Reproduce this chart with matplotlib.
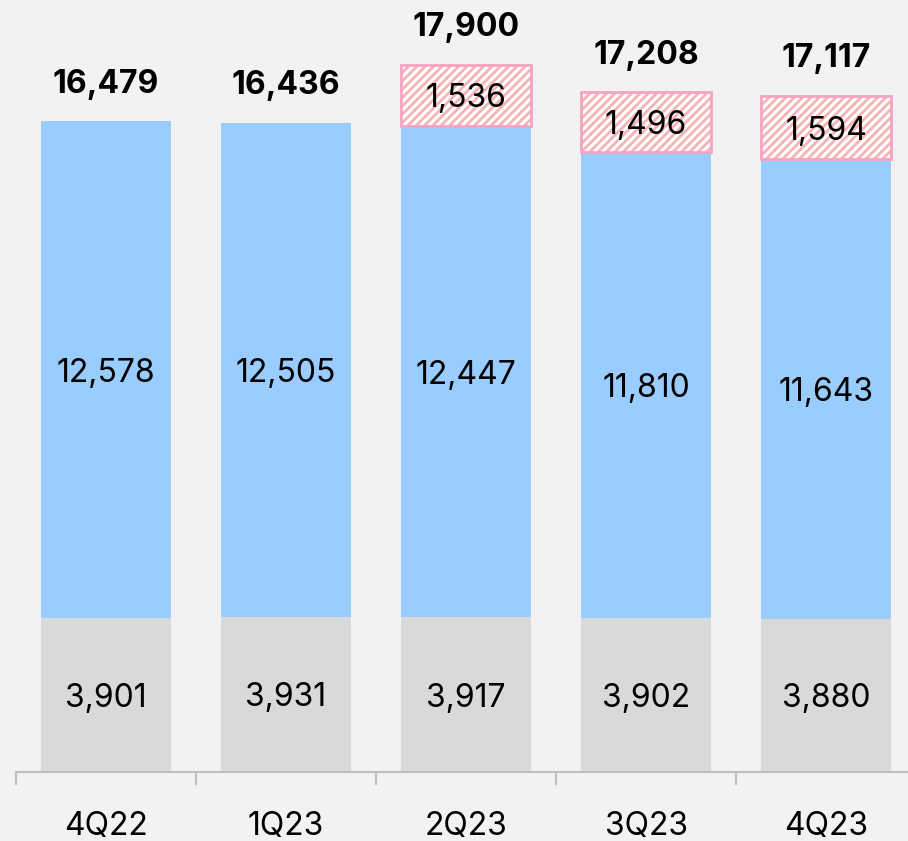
import matplotlib
matplotlib.use('Agg')
from matplotlib import pyplot as plt
import numpy as np

quarters = ['4Q22', '1Q23', '2Q23', '3Q23', '4Q23']
bottom_vals = [3901, 3931, 3917, 3902, 3880]
middle_vals = [12578, 12505, 12447, 11810, 11643]
top_vals = [0, 0, 1536, 1496, 1594]
totals = [16479, 16436, 17900, 17208, 17117]

bg = '#f2f2f2'
plt.rcParams['font.family'] = ['Inter', 'DejaVu Sans']
plt.rcParams['hatch.linewidth'] = 2.0
plt.rcParams['hatch.color'] = '#f6b3b3'

fig = plt.figure(figsize=(9.08, 8.41), dpi=100, facecolor=bg)
ax = fig.add_axes([16 / 908, 69 / 841, 900 / 908, 772 / 841], facecolor=bg)

x = np.arange(len(quarters))
w = 0.72
bot = np.array(bottom_vals)
mid = np.array(middle_vals)
top = np.array(top_vals)

ax.bar(x, bot, w, color='#d9d9d9', linewidth=0)
ax.bar(x, mid, w, bottom=bot, color='#99ccff', linewidth=0)
has_top = top > 0
bars = ax.bar(x[has_top], top[has_top], w, bottom=(bot + mid)[has_top],
              facecolor='white', edgecolor='#f5a3c3', hatch='////', linewidth=2)
for p in bars:
    # keep pink outline but lighter salmon hatch lines
    p._hatch_color = matplotlib.colors.to_rgba('#f6b3b3')

fs = 23
for i in range(len(quarters)):
    ax.text(x[i], bot[i] / 2, f'{bot[i]:,}', ha='center', va='center_baseline', fontsize=fs)
    ax.text(x[i], bot[i] + mid[i] / 2, f'{mid[i]:,}', ha='center', va='center_baseline', fontsize=fs)
    if top[i] > 0:
        ax.text(x[i], bot[i] + mid[i] + top[i] / 2, f'{top[i]:,}', ha='center',
                va='center_baseline', fontsize=fs)
    ax.text(x[i], totals[i] + 550, f'{totals[i]:,}', ha='center', va='bottom',
            fontsize=fs, fontweight='bold')

ax.set_xlim(-0.5, 4.5)
ax.set_ylim(0, 19550)
ax.set_yticks([])
for s in ['left', 'right', 'top']:
    ax.spines[s].set_visible(False)
ax.spines['bottom'].set_color('#bfbfbf')
ax.spines['bottom'].set_linewidth(1.5)

ax.set_xticks(x)
ax.set_xticklabels(quarters, fontsize=fs)
ax.tick_params(axis='x', which='major', length=0, pad=28)
ax.set_xticks(np.arange(-0.5, 5.0, 1.0), minor=True)
ax.tick_params(axis='x', which='minor', length=9, width=1.5, color='#bfbfbf')

fig.savefig('out.png', dpi=100, facecolor=bg)
